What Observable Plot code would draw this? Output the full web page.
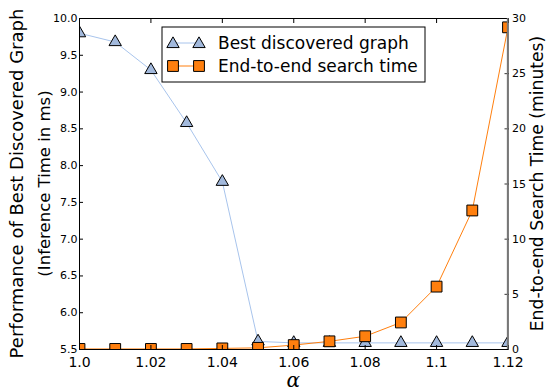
<!DOCTYPE html>
<html>
<head>
<meta charset="utf-8">
<script src="https://cdn.jsdelivr.net/npm/d3@7"></script>
<script src="https://cdn.jsdelivr.net/npm/@observablehq/plot@0.6"></script>
<style>
  html, body { margin: 0; padding: 0; background: #fff; }
  #chart svg { display: block; }
</style>
</head>
<body>
<div id="chart"></div>
<script>
const alpha = [1.00, 1.01, 1.02, 1.03, 1.04, 1.05, 1.06, 1.07, 1.08, 1.09, 1.10, 1.11, 1.12];
const bestGraph = [9.80, 9.68, 9.30, 8.58, 7.78, 5.61, 5.59, 5.59, 5.59, 5.59, 5.59, 5.59, 5.59];
const searchTime = [0.05, 0.05, 0.05, 0.05, 0.1, 0.15, 0.4, 0.74, 1.2, 2.45, 5.7, 12.6, 29.2];

const xTicks = [1.00, 1.02, 1.04, 1.06, 1.08, 1.10, 1.12];
const xTickLabels = ["1.0", "1.02", "1.04", "1.06", "1.08", "1.1", "1.12"];
const leftTicks = [5.5, 6.0, 6.5, 7.0, 7.5, 8.0, 8.5, 9.0, 9.5, 10.0];
const rightTicks = [0, 5, 10, 15, 20, 25, 30];

const leftDomain = [5.5, 10.0];
const rightDomain = [0, 30];
const seriesNames = ["Best discovered graph", "End-to-end search time"];

// map right-axis values into left-axis units (twin axis)
const toLeft = v => leftDomain[0] + (v - rightDomain[0]) / (rightDomain[1] - rightDomain[0]) * (leftDomain[1] - leftDomain[0]);
const toRight = v => rightDomain[0] + (v - leftDomain[0]) / (leftDomain[1] - leftDomain[0]) * (rightDomain[1] - rightDomain[0]);

const blueData = alpha.map((a, i) => ({a, v: bestGraph[i]}));
const orangeData = alpha.map((a, i) => ({a, v: toLeft(searchTime[i])}));

const blueLine = "#a8c4ec";
const blueFill = "#a2b9dc";
const orange = "#ff7f0e";

const W = 547, H = 392;
const mL = 79, mR = 39.5, mT = 18, mB = 43;

const chart = Plot.plot({
  width: W,
  height: H,
  marginLeft: mL,
  marginRight: mR,
  marginTop: mT,
  marginBottom: mB,
  style: {fontFamily: "DejaVu Sans, sans-serif", background: "#fff", overflow: "visible"},
  x: {domain: [1.0, 1.12]},
  y: {domain: leftDomain},
  marks: [
    Plot.line(blueData, {x: "a", y: "v", stroke: blueLine, strokeWidth: 1, clip: true}),
    Plot.dot(blueData, {x: "a", y: "v", symbol: "triangle", r: 4.6, fill: blueFill, stroke: "#000", strokeWidth: 1, clip: true}),
    Plot.line(orangeData, {x: "a", y: "v", stroke: orange, strokeWidth: 1, clip: true}),
    Plot.dot(orangeData, {x: "a", y: "v", symbol: "square", r: 6.1, fill: orange, stroke: "#000", strokeWidth: 1, clip: true}),
    // bottom x axis (inward ticks)
    Plot.axisX({anchor: "bottom", ticks: xTicks, tickFormat: (d) => xTickLabels[xTicks.indexOf(d)], tickSize: -4, tickPadding: 12, fontSize: 14, label: null, stroke: "#000"}),
    Plot.axisX({anchor: "top", ticks: xTicks, tickFormat: () => "", tickSize: -4, label: null, stroke: "#000"}),
    // left axis (inward ticks)
    Plot.axisY({anchor: "left", ticks: leftTicks, tickFormat: d3.format(".1f"), tickSize: -4, tickPadding: 6, fontSize: 11, label: null, stroke: "#000"}),
    // right axis (minutes, inward ticks)
    Plot.axisY({anchor: "right", ticks: rightTicks.map(toLeft), tickFormat: (d) => String(Math.round(toRight(d))), tickSize: -4, tickPadding: 8, fontSize: 11, label: null, stroke: "#333"}),
    Plot.frame({stroke: "#000", strokeWidth: 1})
  ]
});

document.getElementById("chart").appendChild(chart);

const svg = d3.select(chart);
svg.selectAll("text").style("fill", "#000");

// right spine grey
svg.append("line")
  .attr("x1", W - mR).attr("x2", W - mR)
  .attr("y1", mT).attr("y2", H - mB)
  .attr("stroke", "#777").attr("stroke-width", 1.3);

// axis titles
const cy = mT + (H - mT - mB) / 2;
function title(x, size, txt) {
  svg.append("text")
    .attr("transform", `translate(${x},${cy}) rotate(-90)`)
    .attr("text-anchor", "middle")
    .attr("dy", "0.36em")
    .style("font-family", "DejaVu Sans, sans-serif").style("font-size", size + "px").style("fill", "#000")
    .text(txt);
}
title(17, 18, "Performance of Best Discovered Graph");
title(44, 16.5, "(Inference Time in ms)");
title(537, 17.2, "End-to-end Search Time (minutes)");
svg.append("text")
  .attr("x", mL + (W - mL - mR) / 2).attr("y", 387)
  .attr("text-anchor", "middle")
  .style("font-family", "DejaVu Serif, serif").style("font-style", "italic").style("font-size", "20px").style("fill", "#000")
  .text("α");

// legend
const lg = svg.append("g");
lg.append("rect").attr("x", 162).attr("y", 27).attr("width", 263).attr("height", 55)
  .attr("fill", "#fff").attr("stroke", "#000").attr("stroke-width", 1);
const rows = [
  {y: 43, line: blueLine, fill: blueFill, sym: d3.symbolTriangle, size: 66},
  {y: 66, line: orange, fill: orange, sym: d3.symbolSquare, size: 117}
];
rows.forEach((r, i) => {
  lg.append("line").attr("x1", 173).attr("x2", 199).attr("y1", r.y).attr("y2", r.y)
    .attr("stroke", r.line).attr("stroke-width", 1);
  [173, 199].forEach(cx => {
    lg.append("path").attr("d", d3.symbol(r.sym, r.size)())
      .attr("transform", `translate(${cx},${r.y + (i === 0 ? 1 : 0)})`)
      .attr("fill", r.fill).attr("stroke", "#000").attr("stroke-width", 1);
  });
  lg.append("text").attr("x", 218).attr("y", r.y).attr("dy", "0.36em")
    .attr("text-anchor", "start")
    .style("font-family", "DejaVu Sans, sans-serif").style("font-size", "17px").style("fill", "#000")
    .text(seriesNames[i]);
});
</script>
</body>
</html>
